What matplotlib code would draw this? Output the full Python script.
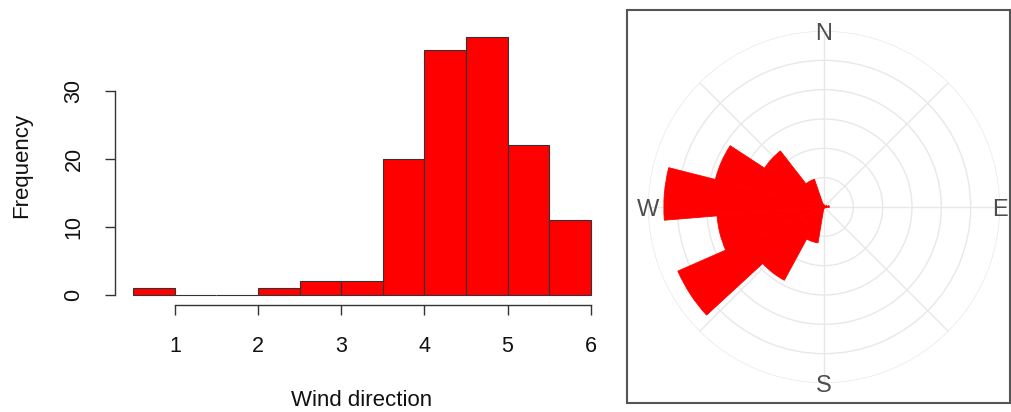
import numpy as np
import matplotlib
matplotlib.use("Agg")
import matplotlib.pyplot as plt
from matplotlib.patches import Rectangle
from matplotlib.transforms import offset_copy

plt.rcParams['font.family'] = ['Liberation Sans', 'DejaVu Sans']

# ---- Histogram data (wind direction in radians) ----
bin_edges = [0.5, 1.0, 1.5, 2.0, 2.5, 3.0, 3.5, 4.0, 4.5, 5.0, 5.5, 6.0]
hist_counts = [1, 0, 0, 1, 2, 2, 20, 36, 38, 22, 11]
x_ticks = [1, 2, 3, 4, 5, 6]
y_ticks = [0, 10, 20, 30]

# ---- Wind rose data: 19 equal sectors clockwise from north ----
n_sectors = 19
rose_counts = [0.3, 0, 0, 0.5, 0.9, 0.4, 0, 0, 0, 0.3,
               6.2, 14.2, 27.2, 18.3, 27.3, 19.1, 12.1, 5.0, 0.5]
rose_rings = [5, 10, 15, 20, 25, 30]
compass_labels = ['N', 'E', 'S', 'W']
compass_angles_deg = [0, 90, 180, 270]

W, H = 1011, 412
fig = plt.figure(figsize=(W / 100, H / 100), dpi=100)

# ---------------- Histogram ----------------
ax = fig.add_axes([115 / W, 1 - 305.3 / H, (609 - 115) / W, (305.3 - 26.3) / H])
lefts = np.array(bin_edges[:-1])
widths = np.diff(bin_edges)
ax.bar(lefts, hist_counts, width=widths, align='edge', color='#ff0000',
       edgecolor='#333333', linewidth=0.8)
ax.set_xlim(0.28, 6.22)
ax.set_ylim(-1.52, 39.52)
for s in ['top', 'right']:
    ax.spines[s].set_visible(False)
ax.spines['left'].set_bounds(0, 30)
ax.spines['bottom'].set_bounds(1, 6)
for s in ['left', 'bottom']:
    ax.spines[s].set_color('#333333')
    ax.spines[s].set_linewidth(1.0)
ax.set_xticks(x_ticks)
ax.set_xticklabels([str(t) for t in x_ticks])
ax.set_yticks(y_ticks)
ax.set_yticklabels([str(t) for t in y_ticks], rotation=90, va='center')
ax.tick_params(axis='both', length=7, width=1.0, color='#333333',
               labelsize=15.5, colors='#111111')
ax.tick_params(axis='x', pad=15)
ax.tick_params(axis='y', pad=15)
fig.text(362 / W, 1 - 401 / H, 'Wind direction', ha='center', va='center',
         fontsize=16, color='#111111')
fig.text(22 / W, 1 - 165 / H, 'Frequency', ha='center', va='center',
         rotation=90, fontsize=16, color='#111111')

# ---------------- Wind rose ----------------
cx, cy, R = 824, 207, 176
pax = fig.add_axes([(cx - R) / W, 1 - (cy + R) / H, 2 * R / W, 2 * R / H],
                   projection='polar')
pax.set_theta_zero_location('N')
pax.set_theta_direction(-1)
width = 2 * np.pi / n_sectors
thetas = np.arange(n_sectors) * width
pax.bar(thetas, rose_counts, width=width, align='edge', color='#ff0000',
        edgecolor='#ff0000', linewidth=0.6, zorder=3)
pax.set_ylim(0, 30)
pax.set_yticks(rose_rings)
pax.set_yticklabels([])
pax.set_xticks(np.deg2rad(np.arange(0, 360, 45)))
pax.set_xticklabels([])
pax.grid(True, color='#e8e8e8', linewidth=1.0)
pax.spines['polar'].set_visible(False)
pax.set_facecolor('none')
lab_tr = offset_copy(pax.transData, fig=fig, x=0, y=-2.5, units='points')
for lab, ang in zip(compass_labels, compass_angles_deg):
    pax.text(np.deg2rad(ang), 30, lab, ha='center', va='center',
             fontsize=17, color='#4d4d4d', zorder=5, transform=lab_tr)

# frame around the rose panel
fig.patches.append(Rectangle((627 / W, 1 - 403 / H), (1010 - 627) / W,
                             (403 - 10) / H, transform=fig.transFigure,
                             fill=False, edgecolor='#555555', linewidth=1.5))

fig.savefig('out.png', dpi=100)
